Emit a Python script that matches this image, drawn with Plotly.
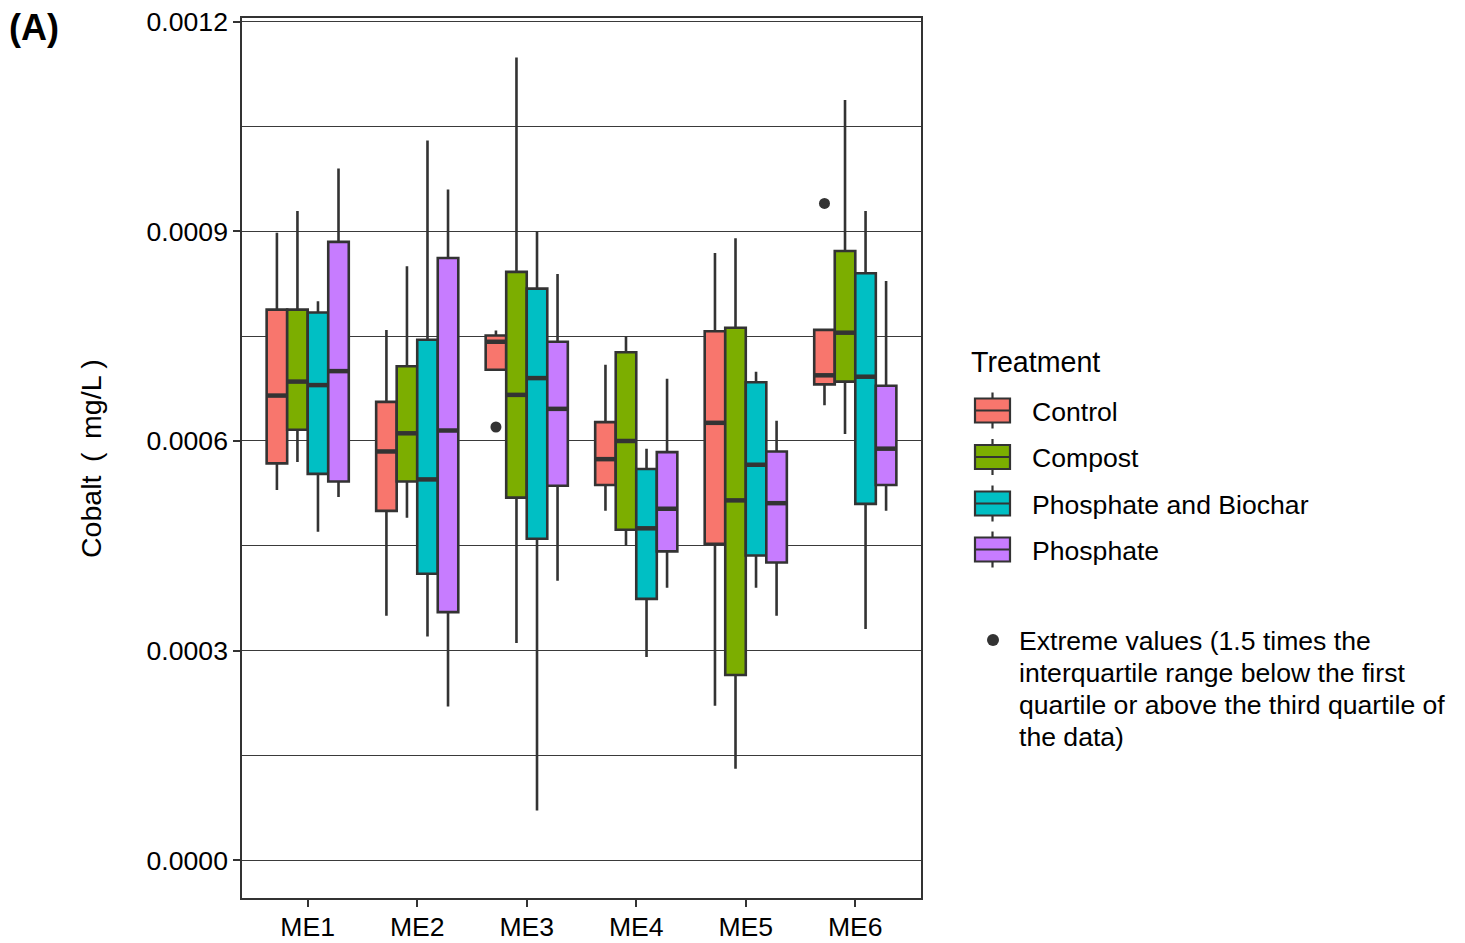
import plotly.graph_objects as go

# ---- data -------------------------------------------------------------
sites = ["ME1", "ME2", "ME3", "ME4", "ME5", "ME6"]
treatments = ["Control", "Compost", "Phosphate and Biochar", "Phosphate"]
colors = ["#F8766D", "#7CAE00", "#00BFC4", "#C77CFF"]

# five-number summaries per treatment, one value per site (mg/L)
control_low = [0.000530, 0.000350, 0.000702, 0.000500, 0.000221, 0.000651]
control_q1 = [0.000568, 0.000500, 0.000702, 0.000537, 0.000453, 0.000681]
control_med = [0.000665, 0.000585, 0.000742, 0.000574, 0.000626, 0.000694]
control_q3 = [0.000788, 0.000656, 0.000751, 0.000627, 0.000757, 0.000759]
control_high = [0.000898, 0.000759, 0.000758, 0.000709, 0.000869, 0.000759]

compost_low = [0.000570, 0.000490, 0.000311, 0.000450, 0.000131, 0.000610]
compost_q1 = [0.000616, 0.000542, 0.000519, 0.000473, 0.000265, 0.000685]
compost_med = [0.000685, 0.000611, 0.000666, 0.000600, 0.000515, 0.000755]
compost_q3 = [0.000788, 0.000707, 0.000842, 0.000727, 0.000762, 0.000872]
compost_high = [0.000929, 0.000850, 0.001149, 0.000750, 0.000890, 0.001088]

pb_low = [0.000470, 0.000320, 0.000071, 0.000291, 0.000390, 0.000331]
pb_q1 = [0.000553, 0.000410, 0.000460, 0.000374, 0.000436, 0.000510]
pb_med = [0.000680, 0.000545, 0.000690, 0.000475, 0.000566, 0.000692]
pb_q3 = [0.000784, 0.000745, 0.000818, 0.000560, 0.000684, 0.000840]
pb_high = [0.000800, 0.001030, 0.000900, 0.000589, 0.000699, 0.000929]

phos_low = [0.000520, 0.000220, 0.000400, 0.000390, 0.000350, 0.000500]
phos_q1 = [0.000542, 0.000355, 0.000536, 0.000442, 0.000426, 0.000537]
phos_med = [0.000700, 0.000615, 0.000646, 0.000503, 0.000511, 0.000589]
phos_q3 = [0.000885, 0.000862, 0.000742, 0.000584, 0.000585, 0.000679]
phos_high = [0.000990, 0.000960, 0.000839, 0.000689, 0.000629, 0.000829]

# extreme values (all belong to the Control treatment)
outlier_site = ["ME3", "ME6"]
outlier_value = [0.000620, 0.000940]

stats = [
    (control_low, control_q1, control_med, control_q3, control_high),
    (compost_low, compost_q1, compost_med, compost_q3, compost_high),
    (pb_low, pb_q1, pb_med, pb_q3, pb_high),
    (phos_low, phos_q1, phos_med, phos_q3, phos_high),
]

y_ticks = [0.0, 0.0003, 0.0006, 0.0009, 0.0012]

# ---- geometry ---------------------------------------------------------
W, H = 1465, 943
L, R, T, B = 242, 921, 18, 898
dodge = 0.75
box_w = dodge / len(treatments)
offsets = [(k - (len(treatments) - 1) / 2) * box_w for k in range(len(treatments))]

INK = "#333333"
GRID = "#3a3a3a"
FONT = "Liberation Sans, Arial, sans-serif"
FS = 26.6


def px(x):
    return (x - L) / (R - L)


def py(y):
    return (B - y) / (B - T)


fig = go.Figure()

for k, (name, col, (lo, q1, med, q3, hi)) in enumerate(zip(treatments, colors, stats)):
    xs = [i + offsets[k] for i in range(len(sites))]
    fig.add_trace(go.Box(
        x=xs, q1=q1, median=med, q3=q3, lowerfence=lo, upperfence=hi,
        name=name, fillcolor=col, width=box_w,
        line=dict(color=INK, width=2.6), whiskerwidth=0,
        boxpoints=False, showlegend=False, hoverinfo="skip",
    ))
    # thicker median bars
    mx, my = [], []
    for x, m in zip(xs, med):
        mx += [x - box_w / 2, x + box_w / 2, None]
        my += [m, m, None]
    fig.add_trace(go.Scatter(
        x=mx, y=my, mode="lines", line=dict(color=INK, width=4.5),
        showlegend=False, hoverinfo="skip",
    ))

# extreme values
fig.add_trace(go.Scatter(
    x=[sites.index(s) + offsets[0] for s in outlier_site], y=outlier_value,
    mode="markers", marker=dict(color=INK, size=11),
    showlegend=False, hoverinfo="skip",
))

axis_common = dict(
    zeroline=False, automargin=False,
    showline=True, linecolor=INK, linewidth=1.5, mirror=True,
    ticks="outside", ticklen=7, tickwidth=2, tickcolor=INK,
    tickfont=dict(size=FS, color="black"),
)

fig.update_layout(
    width=W, height=H,
    margin=dict(l=L, r=W - R, t=T, b=H - B),
    paper_bgcolor="white", plot_bgcolor="white",
    font=dict(family=FONT, size=FS, color="black"),
    boxmode="overlay",
    xaxis=dict(
        range=[-0.6, len(sites) - 0.4],
        tickvals=list(range(len(sites))), ticktext=sites,
        showgrid=False, ticklabelstandoff=-3, **axis_common,
    ),
    yaxis=dict(
        range=[-0.0000541, 0.0012054],
        tickvals=y_ticks, tickformat=".4f",
        showgrid=True, gridcolor=GRID, gridwidth=1,
        minor=dict(showgrid=True, tick0=0.00015, dtick=0.0003,
                   gridcolor=GRID, gridwidth=1, ticks=""),
        **axis_common,
    ),
)

annotations = [
    dict(text="<b>(A)</b>", x=px(7), y=py(27), xanchor="left", yanchor="middle",
         font=dict(size=36)),
    dict(text="Cobalt \u2009( \u2009mg/L )", x=px(91), y=py(459), textangle=-90,
         xanchor="center", yanchor="middle", font=dict(size=28.5)),
    dict(text="Treatment", x=px(969), y=py(362), xanchor="left", yanchor="middle",
         font=dict(size=28.6)),
]

# legend keys drawn as small boxplot glyphs
row_y = [410.5, 457, 503.5, 549.5]
for name, col, yc in zip(treatments, colors, row_y):
    x0, x1 = 975, 1010
    xm = (x0 + x1) / 2
    fig.add_shape(type="line", xref="paper", yref="paper",
                  x0=px(xm), x1=px(xm), y0=py(yc - 18), y1=py(yc + 18),
                  line=dict(color=INK, width=2.2))
    fig.add_shape(type="rect", xref="paper", yref="paper",
                  x0=px(x0), x1=px(x1), y0=py(yc - 12), y1=py(yc + 12),
                  fillcolor=col, line=dict(color=INK, width=2.2))
    fig.add_shape(type="line", xref="paper", yref="paper",
                  x0=px(x0), x1=px(x1), y0=py(yc), y1=py(yc),
                  line=dict(color=INK, width=2.2))
    annotations.append(dict(text=name, x=px(1030), y=py(yc + 1), xanchor="left",
                            yanchor="middle", font=dict(size=FS)))

# note explaining the dots
fig.add_shape(type="circle", xref="paper", yref="paper",
              x0=px(987), x1=px(999), y0=py(634), y1=py(646),
              fillcolor=INK, line=dict(color=INK, width=0))
note_lines = [
    "Extreme values (1.5 times the",
    "interquartile range below the first",
    "quartile or above the third quartile of",
    "the data)",
]
for j, line in enumerate(note_lines):
    annotations.append(dict(text=line, x=px(1017), y=py(641 + 32 * j),
                            xanchor="left", yanchor="middle", font=dict(size=FS)))

for a in annotations:
    a.update(xref="paper", yref="paper", showarrow=False)

fig.update_layout(annotations=annotations)

fig.write_html("out.html")
